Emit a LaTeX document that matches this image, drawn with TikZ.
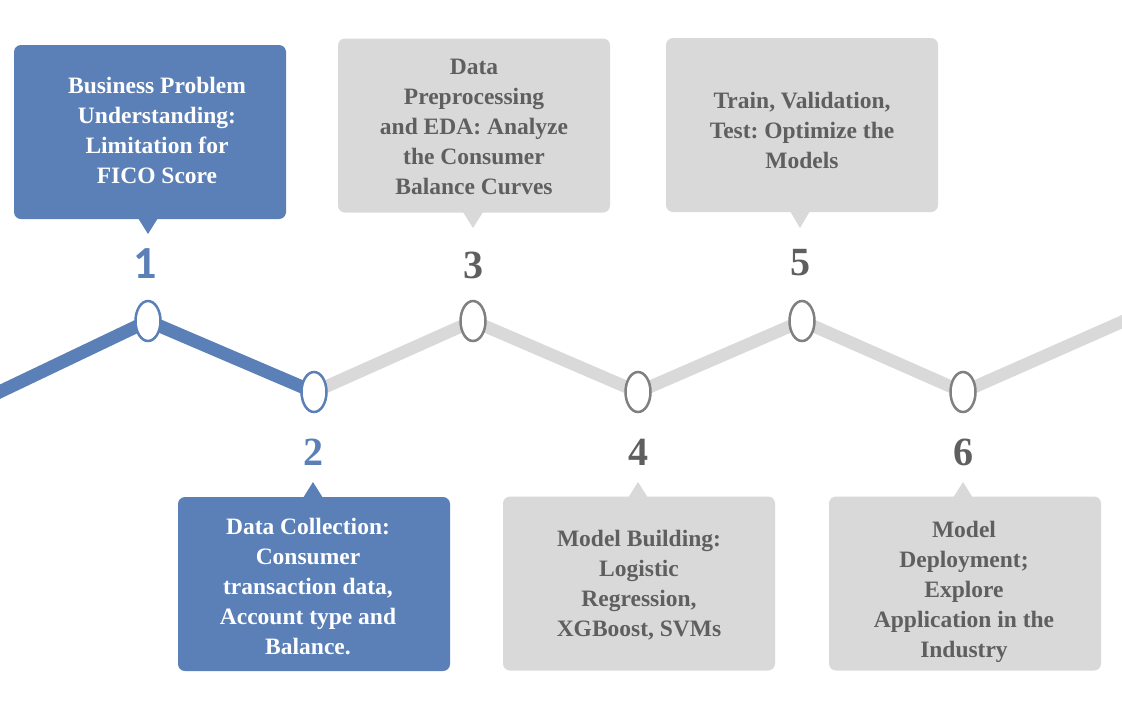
\documentclass[tikz,border=0pt]{standalone}
\usepackage{fontspec}
\setmainfont{Liberation Serif}
\newfontfamily\numsans{Carlito}
\usetikzlibrary{shapes.geometric}
\definecolor{cblue}{HTML}{5B80B8}
\definecolor{cgreybox}{HTML}{D9D9D9}
\definecolor{cgreyline}{HTML}{D9D9D9}
\definecolor{cgreytext}{HTML}{5F5F5F}
\definecolor{cgreyring}{HTML}{808080}
\frenchspacing
\begin{document}
\begin{tikzpicture}[x=1pt,y=-1pt,
  boxstyle/.style={rectangle,rounded corners=7pt,minimum width=272pt,minimum height=174pt,inner sep=0pt},
  bluebox/.style={boxstyle,fill=cblue},
  greybox/.style={boxstyle,fill=cgreybox},
  txt/.style={align=center,font=\fontsize{23.5}{30}\selectfont\bfseries,inner sep=0pt},
  bluetxt/.style={txt,text=white},
  greytxt/.style={txt,text=cgreytext},
  numstyle/.style={font=\fontsize{40}{40}\selectfont\bfseries,inner sep=0pt},
  ring/.style={ellipse,fill=white,line width=2.5pt,minimum width=25pt,minimum height=40pt,inner sep=0pt},
  bluering/.style={ring,draw=cblue},
  greyring/.style={ring,draw=cgreyring},
  blueline/.style={draw=cblue,line width=13pt},
  greyline/.style={draw=cgreyline,line width=12.5pt}]
\clip (0,0) rectangle (1122,702);
\fill[white] (0,0) rectangle (1122,702);
% path points
\coordinate (s) at (-30,406);
\coordinate (p1) at (148,321);
\coordinate (p2) at (314,392);
\coordinate (p3) at (473,321);
\coordinate (p4) at (638,392);
\coordinate (p5) at (802,321);
\coordinate (p6) at (963,392);
\coordinate (e) at (1160,305);
\draw[greyline] (p2) -- (p3) -- (p4) -- (p5) -- (p6) -- (e);
\draw[blueline] (s) -- (p1) -- (p2);
\node[bluering] (r1) at (p1) {};
\node[bluering] (r2) at (p2) {};
\node[greyring] (r3) at (p3) {};
\node[greyring] (r4) at (p4) {};
\node[greyring] (r5) at (p5) {};
\node[greyring] (r6) at (p6) {};
% numbers
\node[numstyle,text=cblue] (n1) at (145,264) {\fontsize{46}{46}\selectfont\numsans\bfseries 1};
\node[numstyle,text=cblue] (n2) at (313,452) {2};
\node[numstyle,text=cgreytext] (n3) at (473,265) {3};
\node[numstyle,text=cgreytext] (n4) at (638,452) {4};
\node[numstyle,text=cgreytext] (n5) at (800,263) {5};
\node[numstyle,text=cgreytext] (n6) at (963,452) {6};
% boxes
\node[bluebox] (b1) at (150,132) {};
\fill[cblue] (138,218) -- (158,218) -- (148,234) -- cycle;
\node[greybox] (b3) at (474,125.5) {};
\fill[cgreybox] (463,212) -- (483,212) -- (473,228) -- cycle;
\node[greybox] (b5) at (802,125) {};
\fill[cgreybox] (790,211) -- (810,211) -- (800,228) -- cycle;
\node[bluebox] (b2) at (314,584) {};
\fill[cblue] (303,498) -- (323,498) -- (313,482) -- cycle;
\node[greybox] (b4) at (639,583.5) {};
\fill[cgreybox] (628,498) -- (648,498) -- (638,482) -- cycle;
\node[greybox] (b6) at (965,583.5) {};
\fill[cgreybox] (953,498) -- (973,498) -- (963,482) -- cycle;
% texts
\node[bluetxt] (t1) at (157,130) {Business Problem\\Understanding:\\Limitation for\\FICO Score};
\node[greytxt] (t3) at (474,127) {Data\\Preprocessing\\and EDA: Analyze\\the Consumer\\Balance Curves};
\node[greytxt] (t5) at (802,130) {Train, Validation,\\Test: Optimize the\\Models};
\node[bluetxt] (t2) at (308,587) {Data Collection:\\Consumer\\transaction data,\\Account type and\\Balance.};
\node[greytxt] (t4) at (639,585) {Model Building:\\Logistic\\Regression,\\XGBoost, SVMs};
\node[greytxt] (t6) at (964,592) {Model\\Deployment;\\Explore\\Application in the\\Industry};
\end{tikzpicture}
\end{document}
